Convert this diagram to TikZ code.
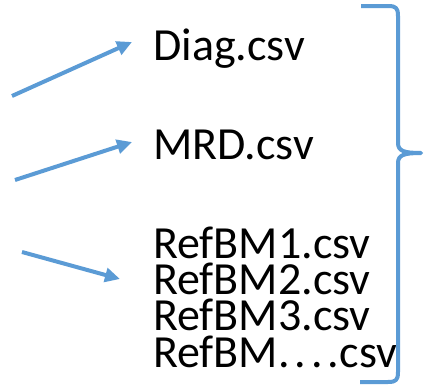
\documentclass[tikz,border=0pt]{standalone}
\usepackage{fontspec}
\setmainfont{Carlito}
\usetikzlibrary{arrows.meta}
\definecolor{arrowblue}{HTML}{5B9BD5}
\tikzset{
  lbl/.style={anchor=base west, inner sep=0pt, font=\fontsize{46}{36.3}\selectfont},
  conn/.style={draw=arrowblue, line width=4pt, -{Triangle[length=15pt,width=14pt]}},
  bracestyle/.style={draw=arrowblue, line width=4pt, line join=round}
}
\begin{document}
\begin{tikzpicture}[x=1pt,y=-1pt]
\useasboundingbox (0,0) rectangle (424,388);
\node[lbl] (diag) at (153,60) {Diag.csv};
\node[lbl] (mrd) at (153,159) {MRD.csv};
\node[lbl] (ref1) at (153,258) {RefBM1.csv};
\node[lbl] (ref2) at (153,294) {RefBM2.csv};
\node[lbl] (ref3) at (153,330) {RefBM3.csv};
\node[lbl] (ref4) at (153,367) {RefBM.\kern5pt.\kern5pt.\kern5pt.csv};
\coordinate (s1) at (12,96);
\coordinate (t1) at (132,42);
\coordinate (s2) at (15,180);
\coordinate (t2) at (132,142);
\coordinate (s3) at (22,252);
\coordinate (t3) at (120,279);
\draw[conn] (s1) -- (t1);
\draw[conn] (s2) -- (t2);
\draw[conn] (s3) -- (t3);
\coordinate (btop) at (361,6);
\coordinate (btip) at (421,153);
\coordinate (bbot) at (360,382);
\draw[bracestyle] (btop) -- (388,6) .. controls (396,6) and (398,8) .. (398,16)
  -- (398,143) .. controls (398,151) and (404,153) .. (btip)
  .. controls (404,153) and (398,155) .. (398,163)
  -- (398,372) .. controls (398,380) and (396,382) .. (388,382) -- (bbot);
\end{tikzpicture}
\end{document}
